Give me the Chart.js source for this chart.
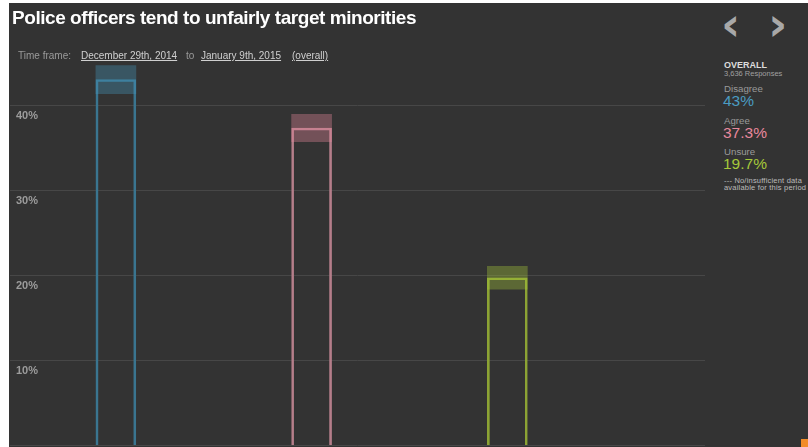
<!DOCTYPE html>
<html>
<head>
<meta charset="utf-8">
<script src="https://cdn.jsdelivr.net/npm/chart.js@4/dist/chart.umd.min.js"></script>
<style>
  html, body { margin: 0; padding: 0; background: #ffffff; width: 808px; height: 447px; overflow: hidden; }
  body { position: relative; font-family: "Liberation Sans", Arial, sans-serif; }
  #panel { position: absolute; left: 9px; top: 3px; width: 799px; height: 444px; background: #333333; overflow: hidden; }
  #chartBox { position: absolute; left: -11px; top: 0; width: 707px; height: 455px; }
  .t { position: absolute; white-space: nowrap; }
  #title { left: 12px; top: 7px; font-size: 19px; font-weight: bold; color: #ffffff; letter-spacing: -0.45px; }
  .tf { top: 50px; font-size: 10px; color: #9a9a9a; }
  .tfl { color: #d0d0d0; text-decoration: underline; }
  .arrow { top: -4px; font-size: 47px; font-weight: bold; color: #a8a8a8; font-family: "DejaVu Sans", sans-serif; }
  #orange { position: absolute; left: 801px; top: 439px; width: 7px; height: 8px; background: #f28c28; }
</style>
</head>
<body>
<div id="panel"><div id="chartBox"><canvas id="c"></canvas></div></div>

<div class="t" id="title">Police officers tend to unfairly target minorities</div>
<div class="t tf" style="left:18px;">Time frame:</div>
<div class="t tf tfl" style="left:81px;">December 29th, 2014</div>
<div class="t tf" style="left:186px;">to</div>
<div class="t tf tfl" style="left:201px;">January 9th, 2015</div>
<div class="t tf tfl" style="left:292px;">(overall)</div>

<div class="t arrow" style="left:721px;">&lsaquo;</div>
<div class="t arrow" style="left:768px;">&rsaquo;</div>
<div class="t" style="left:724px; top:60px; font-size:9px; font-weight:bold; color:#dddddd;">OVERALL</div>
<div class="t" style="left:724px; top:69px; font-size:7.5px; color:#a0a0a0;">3,636 Responses</div>
<div id="legend"></div>
<div class="t" style="left:724px; top:177px; font-size:7.5px; color:#bbbbbb; line-height:7px; letter-spacing:0.2px;">--- No/insufficient data<br>available for this period</div>
<div id="orange"></div>

<script>
const categories = ["Disagree", "Agree", "Unsure"];
const values = [43, 37.3, 19.7];
const margins = [1.65, 1.6, 1.35];
const tickValues = [0, 10, 20, 30, 40];
const lineColors = ["#3a7590", "#b57e8a", "#8ca334"];
const bandColors = ["rgba(70,150,185,0.36)", "rgba(230,135,155,0.36)", "rgba(165,200,58,0.36)"];
const textColors = ["#4a9cc2", "#e8899e", "#a6c83a"];

const legend = document.getElementById('legend');
categories.forEach((c, i) => {
  const top = 83 + i * 31.5;
  legend.insertAdjacentHTML('beforeend',
    `<div class="t" style="left:724px; top:${top}px; font-size:9.7px; color:#9a9a9a;">${c}</div>` +
    `<div class="t" style="left:723px; top:${top + 9}px; font-size:15.5px; color:${textColors[i]};">${values[i]}%</div>`);
});

const barData = values.map((v, i) => ({ x: i, y: v }));
const bandData = values.map((v, i) => ({ x: i, y: [v - margins[i], v + margins[i]] }));

new Chart(document.getElementById('c'), {
  type: 'bar',
  data: {
    datasets: [
      {
        label: 'value',
        data: barData,
        backgroundColor: 'rgba(0,0,0,0)',
        borderColor: lineColors,
        borderWidth: 2,
        barThickness: 40,
        grouped: false,
        order: 2
      },
      {
        label: 'margin',
        data: bandData,
        backgroundColor: bandColors,
        borderWidth: 0,
        barThickness: 40,
        grouped: false,
        order: 1
      }
    ]
  },
  options: {
    responsive: true,
    maintainAspectRatio: false,
    animation: false,
    layout: { padding: { top: 51, bottom: 2, left: 0, right: 0 } },
    plugins: { legend: { display: false }, tooltip: { enabled: false } },
    scales: {
      x: { type: 'linear', offset: false, min: -0.541, max: 3.01, display: false },
      y: {
        min: 0, max: 46,
        afterBuildTicks: (s) => { s.ticks = tickValues.map(v => ({ value: v })); },
        border: { display: false },
        grid: { color: '#474747', lineWidth: 1, drawTicks: false },
        ticks: {
          mirror: true,
          padding: 6,
          labelOffset: 11,
          color: '#9c9c9c',
          font: { family: 'Liberation Sans', size: 11, weight: 'bold' },
          callback: (v) => v === 0 ? '' : v + '%'
        }
      }
    }
  }
});
</script>
</body>
</html>
